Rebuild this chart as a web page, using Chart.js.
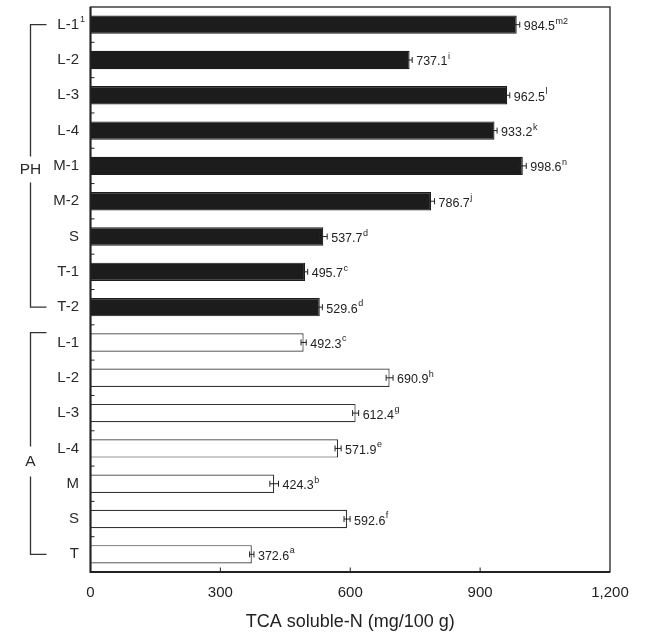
<!DOCTYPE html>
<html>
<head>
<meta charset="utf-8">
<script src="https://cdn.jsdelivr.net/npm/chart.js@4/dist/chart.umd.min.js"></script>
<style>
  html, body { margin: 0; padding: 0; background: #ffffff; }
  #wrap { width: 645px; height: 637px; }
</style>
</head>
<body>
<div id="wrap"><canvas id="c" width="645" height="637"></canvas></div>
<script>
// PH group (filled bars)
const phCategories = ['L-1', 'L-2', 'L-3', 'L-4', 'M-1', 'M-2', 'S', 'T-1', 'T-2'];
const phValues = [984.5, 737.1, 962.5, 933.2, 998.6, 786.7, 537.7, 495.7, 529.6];
const phErrors = [7, 6, 6, 6, 8, 8, 9, 6, 6];
const phLetters = ['m2', 'i', 'l', 'k', 'n', 'j', 'd', 'c', 'd'];

// A group (open bars)
const aCategories = ['L-1', 'L-2', 'L-3', 'L-4', 'M', 'S', 'T'];
const aValues = [492.3, 690.9, 612.4, 571.9, 424.3, 592.6, 372.6];
const aErrors = [6, 8, 7, 7, 10, 7, 5];
const aLetters = ['c', 'h', 'g', 'e', 'b', 'f', 'a'];

// axis
const xTickValues = [0, 300, 600, 900, 1200];
const xTickLabels = ['0', '300', '600', '900', '1,200'];
const groupNames = ['PH', 'A'];

const categories = phCategories.concat(aCategories);
const values = phValues.concat(aValues);
const errors = phErrors.concat(aErrors);
const letters = phLetters.concat(aLetters);
const isPH = categories.map((_, i) => i < phCategories.length);

const FONT = "'Liberation Sans', Arial, Helvetica, sans-serif";
const INK = '#222222';

const decorations = {
  id: 'decorations',
  afterDatasetsDraw(chart) {
    const ctx = chart.ctx;
    const xs = chart.scales.x, ys = chart.scales.y;
    ctx.save();
    // error bars
    ctx.strokeStyle = INK;
    ctx.lineWidth = 1;
    values.forEach((v, i) => {
      const y = ys.getPixelForValue(i);
      const x0 = xs.getPixelForValue(v - errors[i]);
      const x1 = xs.getPixelForValue(v + errors[i]);
      ctx.beginPath();
      ctx.moveTo(x0, y); ctx.lineTo(x1, y);
      ctx.moveTo(x0, y - 3); ctx.lineTo(x0, y + 3);
      ctx.moveTo(x1, y - 3); ctx.lineTo(x1, y + 3);
      ctx.stroke();
    });
    // value labels with significance letters
    ctx.fillStyle = INK;
    ctx.textAlign = 'left';
    ctx.textBaseline = 'alphabetic';
    values.forEach((v, i) => {
      const y = ys.getPixelForValue(i) + 5.5;
      let x = xs.getPixelForValue(v + errors[i]) + 4;
      const txt = v.toFixed(1);
      ctx.font = '12.5px ' + FONT;
      ctx.fillText(txt, x, y);
      x += ctx.measureText(txt).width + 0.5;
      ctx.font = '9px ' + FONT;
      ctx.fillText(letters[i], x, y - 6.5);
    });
    ctx.restore();
  },
  afterDraw(chart) {
    const ctx = chart.ctx;
    const xs = chart.scales.x, ys = chart.scales.y;
    const a = chart.chartArea;
    ctx.save();
    // frame
    ctx.strokeStyle = INK;
    ctx.lineWidth = 1.3;
    ctx.strokeRect(a.left, a.top, a.right - a.left, a.bottom - a.top);
    ctx.lineWidth = 2;
    ctx.beginPath();
    ctx.moveTo(a.left, a.top); ctx.lineTo(a.left, a.bottom); ctx.lineTo(a.right, a.bottom);
    ctx.stroke();
    // inner ticks
    ctx.lineWidth = 1;
    ctx.beginPath();
    for (let i = 1; i < categories.length; i++) {
      const y = (ys.getPixelForValue(i - 1) + ys.getPixelForValue(i)) / 2;
      ctx.moveTo(a.left, y); ctx.lineTo(a.left + 4, y);
    }
    xTickValues.slice(1, -1).forEach(v => {
      const x = xs.getPixelForValue(v);
      ctx.moveTo(x, a.bottom); ctx.lineTo(x, a.bottom - 4.5);
    });
    ctx.stroke();

    // category labels
    ctx.fillStyle = '#2a2a2a';
    ctx.textAlign = 'right';
    ctx.textBaseline = 'middle';
    const labelRight = a.left - 11.5;
    categories.forEach((c, i) => {
      const y = ys.getPixelForValue(i);
      ctx.font = '15px ' + FONT;
      ctx.fillText(c, labelRight, y);
      if (i === 0) {
        ctx.textAlign = 'left';
        ctx.font = '9px ' + FONT;
        ctx.fillText('1', labelRight + 1, y - 5);
        ctx.textAlign = 'right';
      }
    });

    // group brackets
    const bx = 30.5, bh = 16;
    const brackets = [
      { name: groupNames[0], from: 0, to: phCategories.length - 1, at: 4.1, gap: 13 },
      { name: groupNames[1], from: phCategories.length - 0.28, to: categories.length - 1, at: 12.37, gap: 15 }
    ];
    ctx.strokeStyle = '#333333';
    ctx.lineWidth = 1.3;
    brackets.forEach(b => {
      const y0 = ys.getPixelForValue(b.from);
      const y1 = ys.getPixelForValue(b.to);
      const ym = ys.getPixelForValue(b.at);
      ctx.beginPath();
      ctx.moveTo(bx + bh, y0); ctx.lineTo(bx, y0); ctx.lineTo(bx, ym - b.gap);
      ctx.moveTo(bx, ym + b.gap); ctx.lineTo(bx, y1); ctx.lineTo(bx + bh, y1);
      ctx.stroke();
      ctx.textAlign = 'center';
      ctx.textBaseline = 'middle';
      ctx.font = '15.5px ' + FONT;
      ctx.fillText(b.name, bx, ym);
    });
    ctx.restore();
  }
};

new Chart(document.getElementById('c'), {
  type: 'bar',
  data: {
    labels: categories,
    datasets: [{
      data: values,
      backgroundColor: isPH.map(p => p ? '#1c1c1c' : '#ffffff'),
      borderColor: isPH.map(p => p ? '#1c1c1c' : '#333333'),
      borderWidth: 1.2,
      barPercentage: 0.52,
      categoryPercentage: 1
    }]
  },
  options: {
    indexAxis: 'y',
    responsive: false,
    animation: false,
    devicePixelRatio: 1,
    layout: { padding: { left: 90.5, right: 35, top: 7, bottom: 0 } },
    plugins: { legend: { display: false }, tooltip: { enabled: false } },
    scales: {
      x: {
        type: 'linear',
        min: 0,
        max: 1200,
        afterBuildTicks: s => { s.ticks = xTickValues.map(v => ({ value: v })); },
        afterFit: s => { s.height = 65; },
        grid: { display: false, drawTicks: false },
        border: { display: false },
        ticks: {
          padding: 12,
          color: INK,
          font: { family: FONT, size: 15 },
          callback: (v) => xTickLabels[xTickValues.indexOf(v)]
        },
        title: {
          display: true,
          text: 'TCA soluble-N (mg/100 g)',
          color: INK,
          font: { family: FONT, size: 18 },
          padding: { top: 0, bottom: 4 }
        }
      },
      y: {
        type: 'category',
        offset: true,
        afterFit: s => { s.width = 0; },
        grid: { display: false, drawTicks: false },
        border: { display: false },
        ticks: { display: false }
      }
    }
  },
  plugins: [decorations]
});
</script>
</body>
</html>
